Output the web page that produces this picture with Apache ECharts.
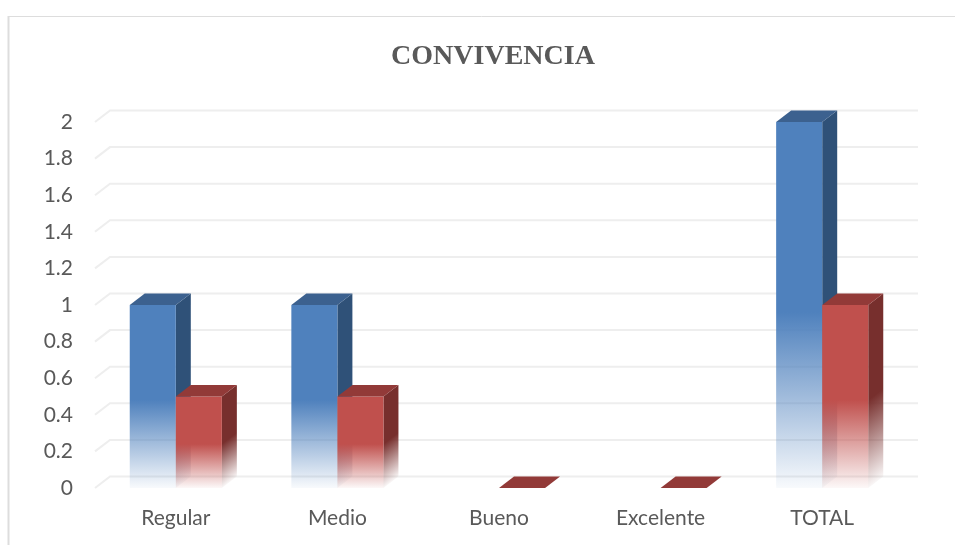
<!DOCTYPE html>
<html>
<head>
<meta charset="utf-8">
<style>
  html, body { margin: 0; padding: 0; background: #fff; }
  #chart { width: 955px; height: 545px; }
</style>
<script src="https://cdn.jsdelivr.net/npm/echarts@6/dist/echarts.min.js"></script>
</head>
<body>
<div id="chart"></div>
<script>
const categories = ['Regular', 'Medio', 'Bueno', 'Excelente', 'TOTAL'];
const blueValues = [1, 1, null, null, 2];
const redValues = [0.5, 0.5, 0, 0, 1];
const yTicks = [0, 0.2, 0.4, 0.6, 0.8, 1, 1.2, 1.4, 1.6, 1.8, 2];

const DX = 15; // profundidad del efecto 3D
const DY = 11.5;
const BAR_RATIO = 0.285; // ancho de barra / ancho de categoria
const textColor = '#595959';

function fade(rgb, x, y, x2, y2, global) {
  return {
    type: 'linear', x, y, x2, y2, global: !!global,
    colorStops: [
      { offset: 0, color: 'rgba(' + rgb + ',1)' },
      { offset: 0.52, color: 'rgba(' + rgb + ',1)' },
      { offset: 1, color: 'rgba(' + rgb + ',0.04)' }
    ]
  };
}

function barRenderer(offset, front, side, top) {
  return function (params, api) {
    const val = api.value(1);
    if (isNaN(val)) return null;
    const base = api.coord([api.value(0), 0]);
    const head = api.coord([api.value(0), val]);
    const w = api.size([1, 0])[0] * BAR_RATIO;
    const xl = base[0] + offset * w;
    const xr = xl + w;
    const yb = base[1];
    const yt = head[1];
    const h = yb - yt;
    const children = [];
    if (h > 0) {
      // la cara lateral se desvanece paralela a su borde inferior
      const t = DX * h / (DY * DY + DX * DX);
      children.push({
        type: 'polygon',
        shape: { points: [[xr, yt], [xr + DX, yt - DY], [xr + DX, yb - DY], [xr, yb]] },
        style: { fill: fade(side, xr, yt, xr + DY * t, yt + DX * t, true) }
      });
      children.push({
        type: 'rect',
        shape: { x: xl, y: yt, width: w, height: h },
        style: { fill: fade(front, 0, 0, 0, 1) }
      });
    }
    children.push({
      type: 'polygon',
      shape: { points: [[xl, yt], [xl + DX, yt - DY], [xr + DX, yt - DY], [xr, yt]] },
      style: { fill: 'rgb(' + top + ')' }
    });
    return { type: 'group', children };
  };
}

function wallRenderer(params, api) {
  const rect = params.coordSys;
  const y = api.coord([0, api.value(1)])[1];
  return {
    type: 'polyline',
    shape: { points: [[rect.x, y], [rect.x + DX, y - DY], [rect.x + rect.width + DX, y - DY]] },
    style: { fill: 'none', stroke: '#eeeeee', lineWidth: 2 }
  };
}

const chart = echarts.init(document.getElementById('chart'));
chart.setOption({
  animation: false,
  backgroundColor: '#fff',
  title: {
    text: 'CONVIVENCIA',
    left: 488,
    top: 38,
    textAlign: 'center',
    textStyle: {
      color: textColor,
      fontFamily: 'Liberation Serif',
      fontWeight: 'bold',
      fontSize: 28
    }
  },
  grid: { left: 95, right: 52, top: 122, bottom: 57 },
  xAxis: {
    type: 'category',
    data: categories,
    axisLine: { show: false },
    axisTick: { show: false },
    axisLabel: { color: textColor, fontFamily: 'Lato', fontSize: 21, margin: 20 }
  },
  yAxis: {
    type: 'value',
    min: 0,
    max: 2,
    interval: 0.2,
    axisLine: { show: false },
    axisTick: { show: false },
    splitLine: { show: false },
    axisLabel: { color: textColor, fontFamily: 'Lato', fontSize: 21, margin: 22 }
  },
  series: [
    {
      type: 'custom',
      name: 'walls',
      clip: false,
      silent: true,
      z: 1,
      renderItem: wallRenderer,
      data: yTicks.map((v) => [0, v])
    },
    {
      type: 'custom',
      name: 'Serie 1',
      clip: false,
      z: 2,
      renderItem: barRenderer(-1, '79,129,189', '47,81,120', '60,97,143'),
      data: blueValues.map((v, i) => [i, v])
    },
    {
      type: 'custom',
      name: 'Serie 2',
      clip: false,
      z: 3,
      renderItem: barRenderer(0, '192,80,77', '119,47,45', '146,58,56'),
      data: redValues.map((v, i) => [i, v])
    }
  ],
  graphic: [
    { type: 'line', silent: true, shape: { x1: 8, y1: 16.5, x2: 955, y2: 16.5 }, style: { stroke: '#dddddd', lineWidth: 1 } },
    { type: 'line', silent: true, shape: { x1: 8.5, y1: 16, x2: 8.5, y2: 545 }, style: { stroke: '#dddddd', lineWidth: 2 } }
  ]
});
</script>
</body>
</html>
